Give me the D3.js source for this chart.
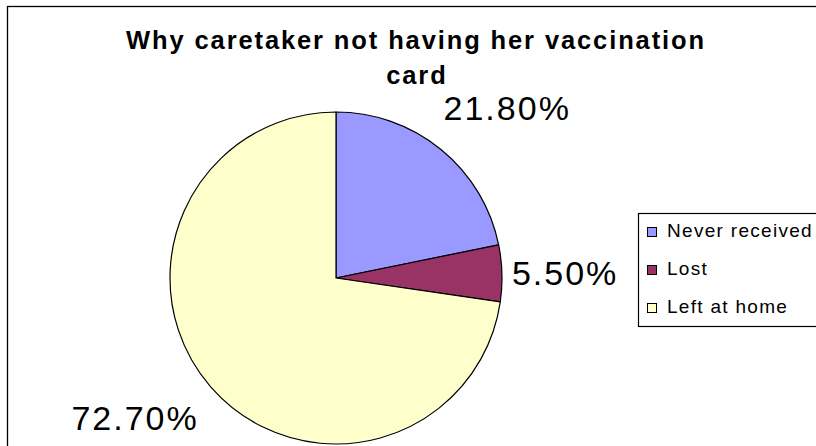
<!DOCTYPE html>
<html>
<head>
<meta charset="utf-8">
<script src="https://cdn.jsdelivr.net/npm/d3@7"></script>
<style>
  body { margin: 0; background: #fff; }
  svg { display: block; font-family: Arial, "Liberation Sans", sans-serif; }
</style>
</head>
<body>
<div id="vis"></div>
<script>
//data
const CATEGORIES = ["Never received", "Lost", "Left at home"];
const VALUES = [21.8, 5.5, 72.7];
const COLORS = ["#9999FF", "#993366", "#FFFFCC"];
const TITLE_LINES = ["Why caretaker not having her vaccination", "card"];

//frame
const FRAME_WIDTH = 816;
const FRAME_HEIGHT = 446;
const CENTER = {x: 336, y: 278};
const RADIUS = 166;
// distance of each label from the centre (Excel puts them outside the pie)
const LABEL_R = [207, 176, 202];

const FRAME = d3.select("#vis")
  .append("svg")
  .attr("width", FRAME_WIDTH)
  .attr("height", FRAME_HEIGHT);

//chart border, runs off the right and bottom edge
FRAME.append("rect")
  .attr("x", 7.5)
  .attr("y", 6.5)
  .attr("width", 900)
  .attr("height", 500)
  .attr("fill", "#fff")
  .attr("stroke", "#000")
  .attr("stroke-width", 1.3);

//title, letter spacing stretched to the width Excel used
const TITLE_Y = [49, 84];
const title = FRAME.append("g");
const line1 = title.append("text")
  .attr("x", 416)
  .attr("y", TITLE_Y[0])
  .attr("text-anchor", "middle")
  .attr("font-size", "25.5px")
  .attr("font-weight", "bold")
  .text(TITLE_LINES[0]);
const w1 = line1.node().getComputedTextLength();
const ls = (578 - w1) / (TITLE_LINES[0].length - 1);
line1.attr("letter-spacing", ls);
title.append("text")
  .attr("x", 416 + ls / 2)
  .attr("y", TITLE_Y[1])
  .attr("text-anchor", "middle")
  .attr("font-size", "25.5px")
  .attr("font-weight", "bold")
  .attr("letter-spacing", ls)
  .text(TITLE_LINES[1]);

//pie
const data = CATEGORIES.map((c, i) => ({name: c, value: VALUES[i], color: COLORS[i]}));
const pie = d3.pie().sort(null).value(d => d.value);
const arcs = pie(data);
const arc = d3.arc().innerRadius(0).outerRadius(RADIUS);

const PIE = FRAME.append("g")
  .attr("transform", "translate(" + CENTER.x + "," + CENTER.y + ")");

PIE.selectAll("path")
  .data(arcs)
  .enter()
  .append("path")
  .attr("d", arc)
  .attr("fill", d => d.data.color)
  .attr("stroke", "#000")
  .attr("stroke-width", 1.2)
  .attr("stroke-linejoin", "round");

//percentage labels
const CAP = 24;
PIE.selectAll(".lbl")
  .data(arcs)
  .enter()
  .append("text")
  .attr("class", "lbl")
  .attr("font-size", "34px")
  .attr("letter-spacing", 2)
  .attr("text-anchor", "middle")
  .text(d => d.data.value.toFixed(2) + "%")
  .each(function(d, i) {
    const a = (d.startAngle + d.endAngle) / 2;
    const w = this.getComputedTextLength();
    const s = Math.sin(a), c = Math.cos(a);
    const cx = LABEL_R[i] * s + s * w / 2;
    const cy = -LABEL_R[i] * c - c * CAP / 2;
    d3.select(this).attr("x", cx).attr("y", cy + CAP / 2);
  });

//legend
const LEGEND = FRAME.append("g").attr("transform", "translate(638.5,213.5)");
LEGEND.append("rect")
  .attr("width", 300)
  .attr("height", 113)
  .attr("fill", "#fff")
  .attr("stroke", "#000")
  .attr("stroke-width", 1.2);

const ROW_Y = d3.scalePoint().domain(CATEGORIES).range([23, 99]);
const items = LEGEND.selectAll(".item")
  .data(data)
  .enter()
  .append("g")
  .attr("transform", d => "translate(9," + ROW_Y(d.name) + ")");
items.append("rect")
  .attr("y", -9)
  .attr("width", 9)
  .attr("height", 9)
  .attr("fill", d => d.color)
  .attr("stroke", "#000")
  .attr("stroke-width", 1);
items.append("text")
  .attr("x", 19.5)
  .attr("y", 0)
  .attr("font-size", "19px")
  .attr("letter-spacing", 1.3)
  .text(d => d.name);
</script>
</body>
</html>
